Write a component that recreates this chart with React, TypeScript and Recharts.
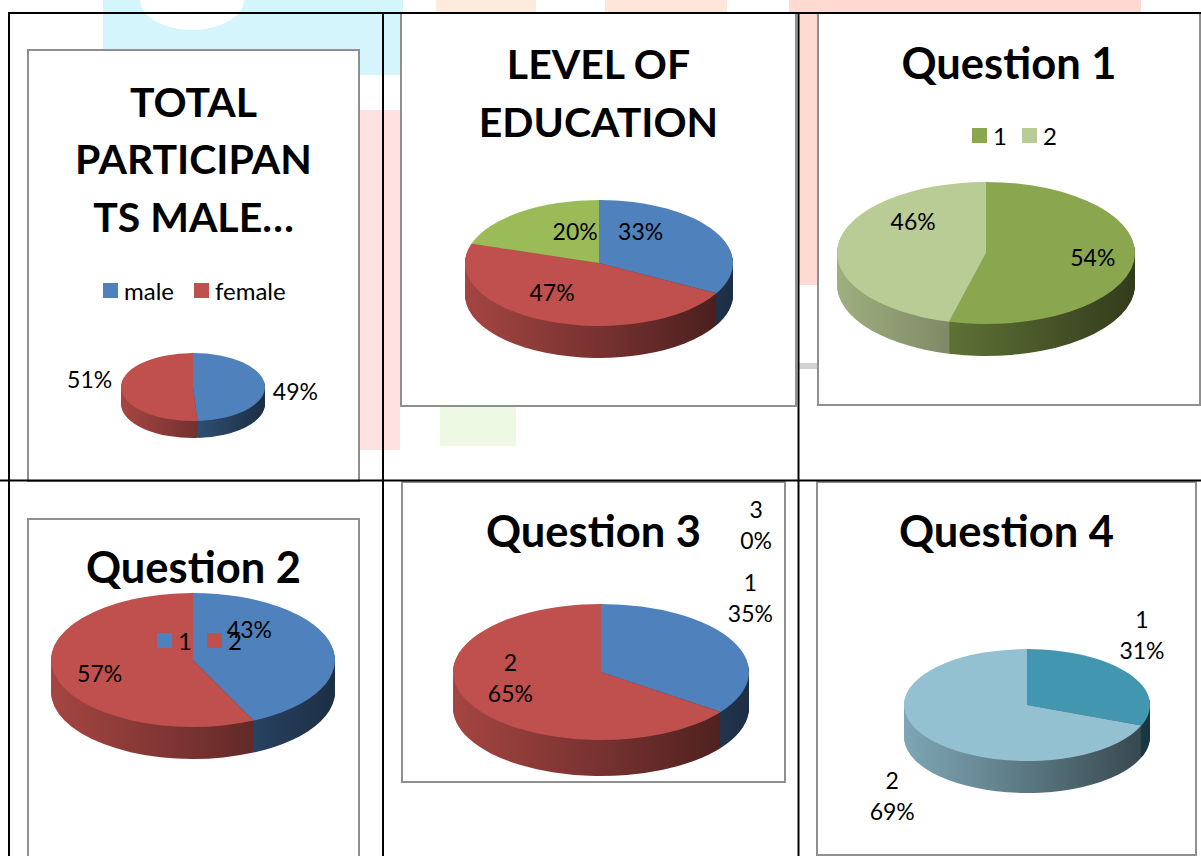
import React from "react";
import { PieChart, Pie, Cell } from "recharts";

const FONT = "Lato, 'Open Sans', sans-serif";

// ---- data (percent values) ----
const genderNames = ["male", "female"];
const genderValues = [49, 51];

const eduNames = ["1", "2", "3"];
const eduValues = [33, 47, 20];

const q1Names = ["1", "2"];
const q1Values = [54, 46];

const q2Names = ["1", "2"];
const q2Values = [43, 57];

const q3Names = ["1", "2", "3"];
const q3Values = [35, 65, 0];

const q4Names = ["1", "2"];
const q4Values = [31, 69];

// ---- colours ----
const BLUE = "#4F81BD";
const RED = "#C0504D";
const GREEN = "#9BBB59";
const OLIVE = "#8AA64F";
const OLIVE_LT = "#B9CC95";
const TEAL = "#4396AF";
const TEAL_LT = "#93C1D2";

const shade = (hex: string, f: number) => {
  const n = parseInt(hex.slice(1), 16);
  const r = Math.round(((n >> 16) & 255) * f);
  const g = Math.round(((n >> 8) & 255) * f);
  const b = Math.round((n & 255) * f);
  return `rgb(${r},${g},${b})`;
};

type LabelPos = { f: number; off: number };
type Cfg = {
  id: string;
  box: { x: number; y: number; w: number; h: number };
  title: string[];
  titleY: number[];
  titleSize: number;
  names: string[];
  values: number[];
  colors: string[];
  cx: number; cy: number; rx: number; ry: number; depth: number;
  labels: LabelPos[];
  twoLine?: boolean;
  legend?: { x: number; y: number; gap: number };
};

const charts: Cfg[] = [
  {
    id: "gender", box: { x: 27, y: 49, w: 333, h: 433 },
    title: ["TOTAL", "PARTICIPAN", "TS MALE…"], titleY: [117, 174, 232], titleSize: 41,
    names: genderNames, values: genderValues, colors: [BLUE, RED],
    cx: 193, cy: 387, rx: 72, ry: 34, depth: 17,
    labels: [{ f: 1.43, off: 8 }, { f: 1.45, off: 10 }],
    legend: { x: 103, y: 283, gap: 20 },
  },
  {
    id: "edu", box: { x: 400, y: 12, w: 397, h: 395 },
    title: ["LEVEL OF", "EDUCATION"], titleY: [79, 137], titleSize: 41,
    names: eduNames, values: eduValues, colors: [BLUE, RED, GREEN],
    cx: 599, cy: 263, rx: 134, ry: 63, depth: 32,
    labels: [{ f: 0.58, off: -27 }, { f: 0.59, off: 13 }, { f: 0.52, off: 16 }],
  },
  {
    id: "q1", box: { x: 817, y: 12, w: 384, h: 394 },
    title: ["Question 1"], titleY: [79], titleSize: 43.5,
    names: q1Names, values: q1Values, colors: [OLIVE, OLIVE_LT],
    cx: 986, cy: 253, rx: 149, ry: 71, depth: 32,
    labels: [{ f: 0.72, off: -2 }, { f: 0.66, off: 35 }],
    legend: { x: 972, y: 128, gap: 15 },
  },
  {
    id: "q2", box: { x: 27, y: 518, w: 333, h: 350 },
    title: ["Question 2"], titleY: [583], titleSize: 43.5,
    names: q2Names, values: q2Values, colors: [BLUE, RED],
    cx: 193, cy: 660, rx: 142, ry: 67, depth: 32,
    labels: [{ f: 0.6, off: -36 }, { f: 0.69, off: -5 }],
    legend: { x: 157, y: 633, gap: 15 },
  },
  {
    id: "q3", box: { x: 401, y: 481, w: 385, h: 302 },
    title: ["Question 3"], titleY: [547], titleSize: 43.5,
    names: q3Names, values: q3Values, colors: [BLUE, RED, GREEN],
    cx: 601, cy: 672, rx: 148, ry: 68, depth: 36,
    labels: [{ f: 1.48, off: -20 }, { f: 0.62, off: 18 }, { f: 2.39, off: 26 }],
    twoLine: true,
  },
  {
    id: "q4", box: { x: 816, y: 481, w: 381, h: 375 },
    title: ["Question 4"], titleY: [547], titleSize: 43.5,
    names: q4Names, values: q4Values, colors: [TEAL, TEAL_LT],
    cx: 1027, cy: 705, rx: 123, ry: 56, depth: 32,
    labels: [{ f: 1.56, off: -19 }, { f: 1.97, off: -22 }],
    twoLine: true,
  },
];

function Pie3D({ cfg }: { cfg: Cfg }) {
  const { box, rx, ry } = cfg;
  const bx = box.x + 2, by = box.y + 2;
  const W = box.w - 4, H = box.h - 4;
  const k = ry / rx;
  const cxL = cfg.cx - bx;
  const cyU = (cfg.cy - by) / k;
  const data = cfg.names.map((n, i) => ({ name: n, value: cfg.values[i] }));
  const layers: number[] = [];
  for (let s = cfg.depth; s >= 1; s--) layers.push(s);

  const renderLabel = (p: any) => {
    const lc = cfg.labels[p.index];
    const a = ((90 - p.midAngle + lc.off) * Math.PI) / 180;
    const x = p.cx + lc.f * p.outerRadius * Math.sin(a);
    const y = p.cy - lc.f * p.outerRadius * Math.cos(a);
    const lines = cfg.twoLine ? [p.name, `${p.value}%`] : [`${p.value}%`];
    return (
      <text key={`l${p.index}`} transform={`translate(${x},${y}) scale(1,${1 / k})`} textAnchor="middle" fontFamily={FONT} fontSize={23} fill="#000">
        {lines.map((t, j) => (
          <tspan key={j} x={0} y={(j - (lines.length - 1) / 2) * 31 + 8}>{t}</tspan>
        ))}
      </text>
    );
  };

  return (
    <div style={{ position: "absolute", left: box.x, top: box.y, width: box.w, height: box.h, border: "2px solid #8f8f8f", boxSizing: "border-box", background: "#fff", overflow: "hidden" }}>
      <div style={{ position: "absolute", left: 0, top: 0, width: W, height: H / k, transform: `scaleY(${k})`, transformOrigin: "0 0" }}>
        <PieChart width={W} height={H / k} margin={{ top: 0, right: 0, bottom: 0, left: 0 }}>
          <defs>
            {cfg.colors.map((c, i) => (
              <linearGradient key={i} id={`${cfg.id}-side-${i}`} gradientUnits="userSpaceOnUse" x1={cxL - rx} x2={cxL + rx} y1={0} y2={0}>
                <stop offset="0%" stopColor={shade(c, 0.86)} />
                <stop offset="50%" stopColor={shade(c, 0.62)} />
                <stop offset="100%" stopColor={shade(c, 0.36)} />
              </linearGradient>
            ))}
          </defs>
          {layers.map((s) => (
            <Pie key={`side${s}`} data={data} dataKey="value" nameKey="name" cx={cxL} cy={cyU + s / k} outerRadius={rx} startAngle={90} endAngle={-270} stroke="none" legendType="none" isAnimationActive={false}>
              {data.map((_, i) => <Cell key={i} fill={`url(#${cfg.id}-side-${i})`} />)}
            </Pie>
          ))}
          <Pie data={data} dataKey="value" nameKey="name" cx={cxL} cy={cyU} outerRadius={rx} startAngle={90} endAngle={-270} stroke="none" isAnimationActive={false} label={renderLabel} labelLine={false}>
            {data.map((_, i) => <Cell key={i} fill={cfg.colors[i]} />)}
          </Pie>
        </PieChart>
      </div>
      <svg width={box.w} height={box.h} style={{ position: "absolute", left: -2, top: -2, pointerEvents: "none" }}>
        {cfg.title.map((t, i) => (
          <text key={i} x={box.w / 2} y={cfg.titleY[i] - box.y} textAnchor="middle" fontFamily={FONT} fontWeight={700} fontSize={cfg.titleSize} fill="#000">{t}</text>
        ))}
      </svg>
      {cfg.legend && (
        <div style={{ position: "absolute", left: cfg.legend.x - bx, top: cfg.legend.y - by, display: "flex", alignItems: "center", fontFamily: FONT, fontSize: 24, lineHeight: "15px", color: "#000", whiteSpace: "nowrap" }}>
          {cfg.names.map((n, i) => (
            <div key={n} style={{ display: "flex", alignItems: "center", marginRight: cfg.legend!.gap }}>
              <span style={{ width: 15, height: 15, background: cfg.colors[i], marginRight: 6, display: "inline-block" }} />
              <span>{n}</span>
            </div>
          ))}
        </div>
      )}
    </div>
  );
}

export default function App() {
  return (
    <div style={{ position: "absolute", left: 0, top: 0, width: 1201, height: 856, background: "#fff", overflow: "hidden" }}>
      {/* faint watermark behind the table */}
      <svg width={1201} height={856} style={{ position: "absolute", left: 0, top: 0 }}>
        <rect x={103} y={0} width={300} height={75} fill="#D4F5FB" />
        <ellipse cx={192} cy={0} rx={52} ry={30} fill="#fff" />
        <rect x={436} y={0} width={100} height={12} fill="#FFEBDC" />
        <rect x={605} y={0} width={122} height={12} fill="#FFE6DA" />
        <rect x={789} y={0} width={352} height={12} fill="#FFD9D2" />
        <rect x={360} y={110} width={40} height={340} fill="#FFE1E1" />
        <rect x={799} y={0} width={18} height={285} fill="#FFDAD3" />
        <rect x={799} y={363} width={18} height={6} fill="#D2D2D2" />
        <rect x={440} y={406} width={76} height={40} fill="#EEF9E3" />
      </svg>
      {charts.map((c) => <Pie3D key={c.id} cfg={c} />)}
      <svg width={1201} height={856} style={{ position: "absolute", left: 0, top: 0, pointerEvents: "none" }}>
        <g stroke="#000" strokeWidth={2}>
          <line x1={8} y1={13} x2={1201} y2={13} />
          <line x1={0} y1={480.5} x2={1201} y2={480.5} />
          <line x1={9} y1={12} x2={9} y2={856} />
          <line x1={383} y1={12} x2={383} y2={856} />
          <line x1={798.5} y1={12} x2={798.5} y2={856} />
        </g>
      </svg>
    </div>
  );
}
